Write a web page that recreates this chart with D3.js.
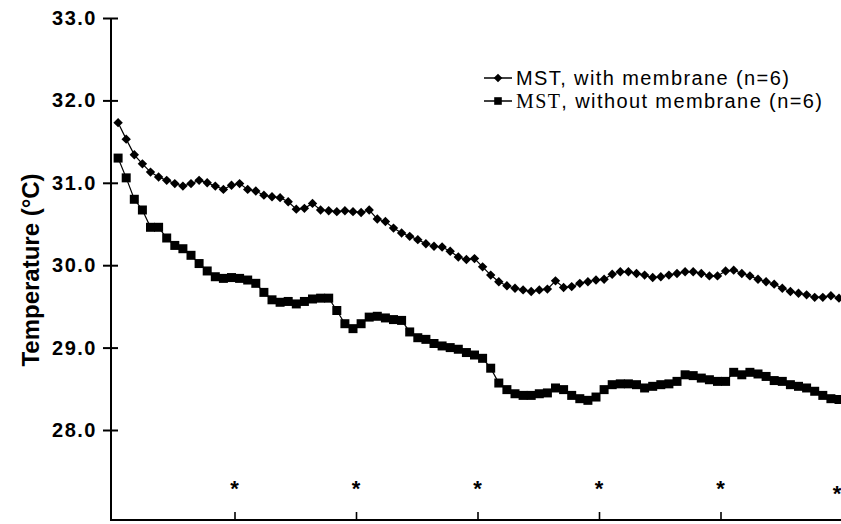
<!DOCTYPE html>
<html>
<head>
<meta charset="utf-8">
<script src="https://cdn.jsdelivr.net/npm/d3@7"></script>
<style>
  html, body { margin: 0; padding: 0; background: #fff; }
  svg { display: block; }
</style>
</head>
<body>
<svg id="chart" width="841" height="524"></svg>
<script>
// ---- data ----
const seriesNames = ["MST, with membrane (n=6)", "MST, without membrane (n=6)"];
// temperature (°C), one reading every 40 s
const withMembrane = [
  31.73, 31.53, 31.34, 31.23, 31.13, 31.07, 31.03, 30.99, 30.96, 30.99,
  31.03, 31.00, 30.96, 30.92, 30.97, 30.99, 30.92, 30.90, 30.85, 30.83,
  30.82, 30.77, 30.68, 30.69, 30.75, 30.67, 30.66, 30.65, 30.66, 30.65,
  30.64, 30.67, 30.56, 30.53, 30.45, 30.39, 30.35, 30.31, 30.26, 30.23,
  30.22, 30.17, 30.10, 30.07, 30.08, 29.98, 29.88, 29.80, 29.75, 29.72,
  29.70, 29.68, 29.70, 29.71, 29.81, 29.73, 29.74, 29.78, 29.80, 29.82,
  29.83, 29.89, 29.92, 29.92, 29.90, 29.88, 29.85, 29.86, 29.88, 29.90,
  29.92, 29.92, 29.90, 29.87, 29.87, 29.93, 29.94, 29.90, 29.87, 29.83,
  29.80, 29.77, 29.72, 29.68, 29.66, 29.64, 29.61, 29.61, 29.63, 29.60
];
const withoutMembrane = [
  31.30, 31.06, 30.80, 30.67, 30.46, 30.46, 30.33, 30.24, 30.20, 30.12,
  30.02, 29.93, 29.86, 29.84, 29.85, 29.84, 29.82, 29.78, 29.67, 29.58,
  29.55, 29.56, 29.53, 29.56, 29.59, 29.60, 29.60, 29.45, 29.29, 29.23,
  29.29, 29.37, 29.38, 29.36, 29.34, 29.33, 29.19, 29.12, 29.10, 29.05,
  29.02, 29.00, 28.98, 28.94, 28.91, 28.87, 28.75, 28.57, 28.49, 28.44,
  28.42, 28.42, 28.44, 28.45, 28.51, 28.49, 28.42, 28.38, 28.36, 28.40,
  28.49, 28.55, 28.56, 28.56, 28.55, 28.51, 28.53, 28.55, 28.56, 28.59,
  28.67, 28.66, 28.63, 28.61, 28.59, 28.59, 28.70, 28.67, 28.70, 28.68,
  28.65, 28.60, 28.59, 28.55, 28.53, 28.51, 28.47, 28.42, 28.38, 28.37
];
const sampleStart = 0.42;      // minutes
const sampleStep = 2 / 3;      // minutes (40 s)
const yTicks = [28, 29, 30, 31, 32, 33];
const xTicks = [10, 20, 30, 40, 50];        // minutes (unlabelled)
const starTimes = [10, 20, 30, 40, 50, 59.6]; // significance markers
const yTitle = "Temperature (°C)";

// ---- layout ----
const svg = d3.select("#chart");
const axisX = 111, axisBottom = 520;
const x = d3.scaleLinear().domain([0, 60]).range([113, 842]);
const y = d3.scaleLinear().domain([28, 33]).range([430, 18]);
const tOf = i => sampleStart + i * sampleStep;
const sans = "Liberation Sans, Arial, sans-serif";

// y axis line
svg.append("line").attr("x1", axisX).attr("x2", axisX)
  .attr("y1", y(33)).attr("y2", axisBottom)
  .attr("stroke", "#000").attr("stroke-width", 2);
// x axis line
svg.append("line").attr("x1", axisX - 1).attr("x2", 841)
  .attr("y1", axisBottom).attr("y2", axisBottom)
  .attr("stroke", "#000").attr("stroke-width", 2);

// y ticks (cross the axis)
const yAxis = d3.axisLeft(y).tickValues(yTicks).tickFormat(d3.format(".1f"))
  .tickSizeInner(0).tickSizeOuter(0).tickPadding(14);
const gy = svg.append("g").attr("transform", `translate(${axisX},0)`).call(yAxis);
gy.select(".domain").remove();
gy.selectAll(".tick text")
  .attr("font-family", sans).attr("letter-spacing", 1.5)
  .attr("font-weight", "bold").attr("font-size", 20).attr("fill", "#000");
gy.selectAll(".tick").append("line")
  .attr("x1", -8).attr("x2", 7).attr("stroke", "#000").attr("stroke-width", 2);

// x ticks (inward)
const xAxis = d3.axisTop(x).tickValues(xTicks).tickFormat("").tickSizeInner(8).tickSizeOuter(0);
const gx = svg.append("g").attr("transform", `translate(0,${axisBottom})`).call(xAxis);
gx.select(".domain").remove();
gx.selectAll(".tick line").attr("stroke", "#000").attr("stroke-width", 1.6);

// y title
svg.append("text")
  .attr("transform", `translate(39,270) rotate(-90)`)
  .attr("text-anchor", "middle")
  .attr("font-family", sans)
  .attr("font-weight", "bold").attr("font-size", 24)
  .text(yTitle);

// markers
const diamondPath = (s) => `M0,${-s}L${s},0L0,${s}L${-s},0Z`;
const squarePath = (s) => `M${-s},${-s}H${s}V${s}H${-s}Z`;

const line = d3.line().x((d, i) => x(tOf(i))).y(d => y(d));

function drawSeries(data, shape) {
  svg.append("path").datum(data).attr("d", line)
    .attr("fill", "none").attr("stroke", "#000").attr("stroke-width", 1.2);
  svg.append("g").selectAll("path").data(data).join("path")
    .attr("transform", (d, i) => `translate(${x(tOf(i))},${y(d)})`)
    .attr("d", shape).attr("fill", "#000");
}
drawSeries(withMembrane, diamondPath(4.7));
drawSeries(withoutMembrane, squarePath(4.5));

// asterisks
svg.append("g").selectAll("text").data(starTimes).join("text")
  .attr("x", d => x(d)).attr("y", (d, i) => i === starTimes.length - 1 ? 501 : 496)
  .attr("text-anchor", "middle")
  .attr("font-family", sans).attr("font-weight", "bold")
  .attr("font-size", 22).text("*");

// legend
const legend = [
  { name: seriesNames[0], shape: diamondPath(4.3), y: 78 },
  { name: seriesNames[1], shape: squarePath(3.8), y: 101 }
];
const lg = svg.append("g");
legend.forEach((L, k) => {
  lg.append("line").attr("x1", 484).attr("x2", 512).attr("y1", L.y).attr("y2", L.y)
    .attr("stroke", "#000").attr("stroke-width", 1.5);
  lg.append("path").attr("transform", `translate(498,${L.y})`).attr("d", L.shape).attr("fill", "#000");
  const t = lg.append("text").attr("x", 516).attr("y", L.y + 7)
    .attr("font-family", sans).attr("font-size", 20).attr("letter-spacing", 1.4);
  if (k === 1) {
    t.append("tspan").attr("font-family", "Liberation Serif, Times New Roman, serif").text("MST");
    t.append("tspan").text(L.name.slice(3));
  } else {
    t.text(L.name);
  }
});
</script>
</body>
</html>
